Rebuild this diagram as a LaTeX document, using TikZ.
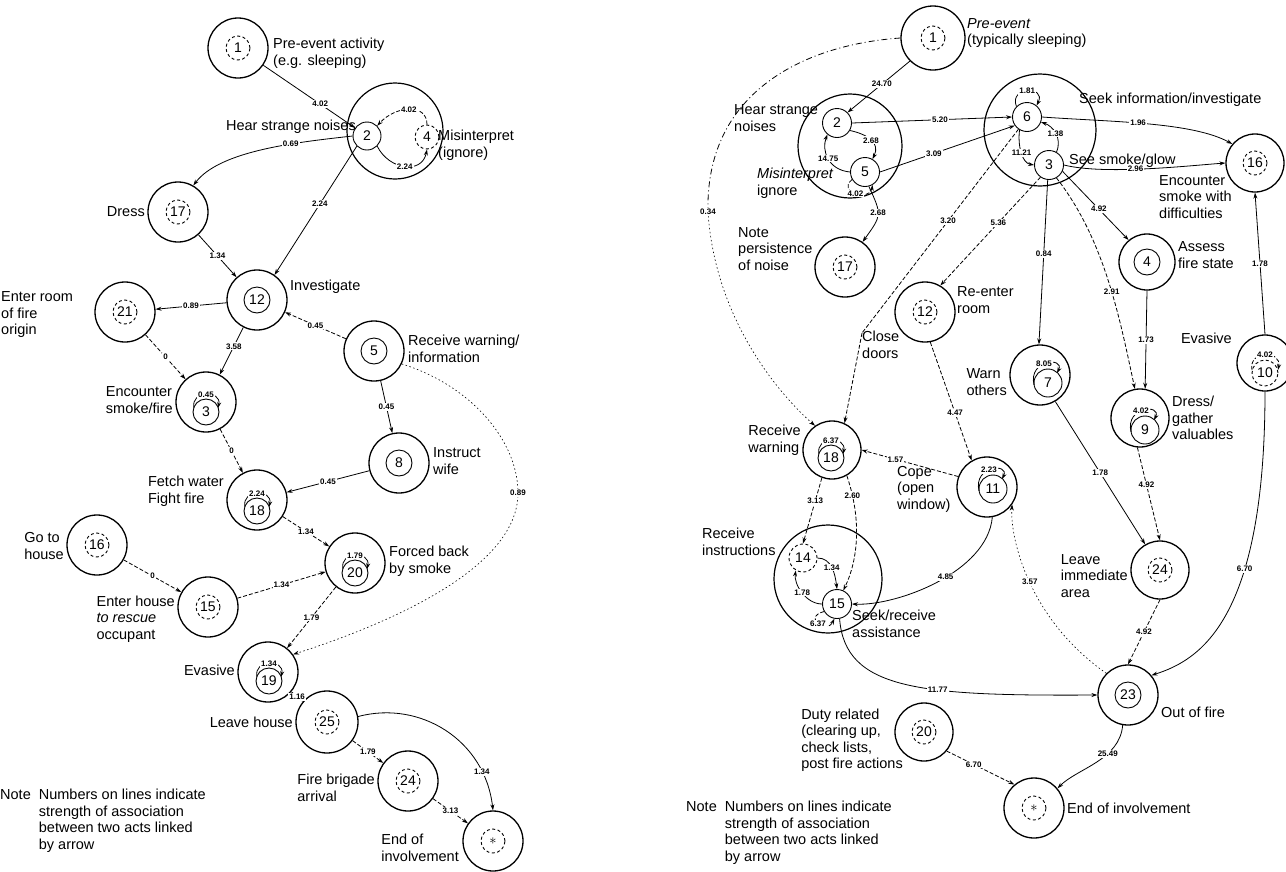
\documentclass[tikz,border=0pt]{standalone}
\usepackage{fontspec}
\setmainfont{Liberation Sans}
\usetikzlibrary{arrows.meta, calc, positioning}

\begin{document}
\begin{tikzpicture}[x=1pt, y=1pt,
  act/.style={circle, draw, line width=1.3pt, minimum size=60pt, inner sep=0pt},
  ring/.style={circle, draw, line width=0.9pt, minimum size=26pt, inner sep=0pt, font=\fontsize{14}{14}\selectfont},
  dring/.style={ring, minimum size=24pt, dash pattern=on 3pt off 2.5pt},
  grp/.style={circle, draw, line width=1.2pt, inner sep=0pt},
  lab/.style={font=\fontsize{14.5}{16.5}\selectfont, align=left, inner sep=1pt},
  num/.style={font=\fontsize{8}{9}\selectfont\bfseries, fill=white, inner sep=1pt},
  lnk/.style={line width=0.8pt, -{Stealth[length=6pt,width=4pt]}},
  wk/.style={lnk, dash pattern=on 4pt off 2pt},
  fnt/.style={lnk, line width=0.6pt, dash pattern=on 1.5pt off 2.5pt}]
\useasboundingbox[fill=white] (0,0) rectangle (1286,-871);

% ---------- left chart ----------
\node[act] (l1) at (238,-48) {}; \node[dring] (l1i) at (l1) {1};
\node[lab, anchor=west] (t1) at (272,-53) {Pre-event activity\\(e.g. sleeping)};
\node[grp, minimum size=96pt] (g24) at (395,-131) {};
\node[ring, minimum size=28pt] (l2) at (367,-136) {2};
\node[dring] (l4) at (427,-137) {4};
\node[lab, anchor=east] (t2) at (357,-127) {Hear strange noises};
\node[lab, anchor=west] (t4) at (437,-145) {Misinterpret\\(ignore)};
\node[act] (l17) at (178,-212) {}; \node[dring] (l17i) at (l17) {17};
\node[lab, anchor=east] (t17) at (146,-212) {Dress};
\node[act] (l12) at (257,-300) {}; \node[ring] (l12i) at (l12) {12};
\node[lab, anchor=west] (t12) at (289,-287) {Investigate};
\node[act] (l21) at (125,-312) {}; \node[dring] (l21i) at (l21) {21};
\node[lab, anchor=west] (t21) at (0,-315) {Enter room\\of fire\\origin};
\node[act] (l5) at (374,-351) {}; \node[ring] (l5i) at (l5) {5};
\node[lab, anchor=west] (t5) at (407,-349) {Receive warning/\\information};
\node[act] (l3) at (206,-402) {}; \node[ring] (l3i) at (206,-412) {3};
\node[lab, anchor=east] (t3) at (174,-400) {Encounter\\smoke/fire};
\node[act] (l8) at (399,-463) {}; \node[ring] (l8i) at (l8) {8};
\node[lab, anchor=west] (t8) at (432,-461) {Instruct\\wife};
\node[act] (l18) at (257,-500) {}; \node[ring] (l18i) at (257,-511) {18};
\node[lab, anchor=east] (t18) at (225,-491) {Fetch water\\Fight fire};
\node[act] (l16) at (97,-545) {}; \node[dring] (l16i) at (l16) {16};
\node[lab, anchor=east] (t16) at (65,-546) {Go to\\house};
\node[act] (l15) at (208,-607) {}; \node[dring] (l15i) at (l15) {15};
\node[lab, anchor=east] (t15) at (176,-619) {Enter house\\\textit{to rescue}\\occupant};
\node[act] (l20) at (355,-563) {}; \node[ring] (l20i) at (355,-573) {20};
\node[lab, anchor=west] (t20) at (388,-561) {Forced back\\by smoke};
\node[act] (l19) at (268,-672) {}; \node[ring] (l19i) at (269,-681) {19};
\node[lab, anchor=east] (t19) at (236,-670) {Evasive};
\node[act, minimum size=62pt] (l25) at (327,-722) {}; \node[dring] (l25i) at (l25) {25};
\node[lab, anchor=east] (t25) at (294,-722) {Leave house};
\node[act] (l24) at (408,-781) {}; \node[dring] (l24i) at (l24) {24};
\node[lab, anchor=east] (t24) at (376,-788) {Fire brigade\\arrival};
\node[act] (lend) at (493,-841) {}; \node[dring] (lendi) at (lend) {$*$};
\node[lab, anchor=east] (tend) at (460,-848) {End of\\involvement};
\node[lab, anchor=north west, inner sep=0pt] (lnote) at (0,-788)
  {\begin{tabular}{@{}l@{\ \ }l@{}}Note & Numbers on lines indicate\\ & strength of association\\ & between two acts linked\\ & by arrow\end{tabular}};

\draw[lnk] (l1) -- node[num, pos=0.62] {4.02} (l2);
\draw[wk] (l4.north) .. controls +(0,22) and +(18,20) .. node[num] {4.02} (l2.north east);
\draw[lnk] (l2.south east) .. controls +(12,-24) and +(-5,-25) .. node[num] {2.24} (l4.south);
\draw[lnk] (l2.west) .. controls (300,-142) and (220,-150) .. node[num, pos=0.35] {0.69} (l17.60);
\draw[lnk] (l2.south west) -- node[num, pos=0.45] {2.24} (l12.55);
\draw[lnk] (l17) -- node[num] {1.34} (l12);
\draw[lnk] (l12) -- node[num] {0.89} (l21);
\draw[wk] (l5) -- node[num] {0.45} (l12);
\draw[lnk] (l12) -- node[num, pos=0.4] {3.58} (l3);
\draw[wk] (l21) -- node[num] {0} (l3);
\draw[wk] (l3) -- node[num] {0} (l18);
\draw[lnk] (l5) -- node[num] {0.45} (l8);
\draw[lnk] (l8) -- node[num] {0.45} (l18);
\draw[wk] (l18) -- node[num] {1.34} (l20);
\draw[wk] (l16) -- node[num] {0} (l15);
\draw[wk] (l15) -- node[num] {1.34} (l20);
\draw[wk] (l20) -- node[num] {1.79} (l19);
\coordinate (c89) at (518,-493);
\draw[fnt] (l5.-25) .. controls (470,-385) and (518,-440) .. (c89)
  .. controls (518,-565) and (400,-620) .. (l19.35);
\node[num] (n89) at (c89) {0.89};
\draw[wk] (l19) -- node[num] {1.16} (l25);
\draw[wk] (l25) -- node[num] {1.79} (l24);
\draw[wk] (l24) -- node[num] {3.13} (lend);
\draw[lnk] (l25.10) .. controls (420,-700) and (485,-740) .. node[num, pos=0.8] {1.34} (lend.north);
% self loops
\draw[lnk] ($(l3i)+(-12,4)$) .. controls +(-4,18) and +(4,18) .. node[num] {0.45} ($(l3i)+(12,4)$);
\draw[lnk] ($(l18i)+(-12,4)$) .. controls +(-4,18) and +(4,18) .. node[num] {2.24} ($(l18i)+(12,4)$);
\draw[lnk] ($(l20i)+(-12,4)$) .. controls +(-4,18) and +(4,18) .. node[num] {1.79} ($(l20i)+(12,4)$);
\draw[lnk] ($(l19i)+(-12,4)$) .. controls +(-4,18) and +(4,18) .. node[num] {1.34} ($(l19i)+(12,4)$);

% ---------- right chart ----------
\node[act, minimum size=64pt] (r1) at (933,-38) {}; \node[dring] (r1i) at (r1) {1};
\node[lab, anchor=west] (u1) at (966,-33) {\textit{Pre-event}\\(typically sleeping)};
\node[grp, minimum size=104pt] (g25) at (850,-146) {};
\node[ring, minimum size=29pt] (r2) at (837,-123) {2};
\node[ring, minimum size=29pt] (r5) at (865,-172) {5};
\node[lab, anchor=west] (u2) at (733,-118) {Hear strange\\noises};
\node[lab, anchor=west] (u5) at (756,-183) {\textit{Misinterpret}\\ignore};
\node[grp, minimum size=112pt] (g63) at (1040,-130) {};
\node[ring, minimum size=29pt] (r6) at (1027,-117) {6};
\node[ring, minimum size=29pt] (r3) at (1049,-165) {3};
\node[lab, anchor=west] (u6) at (1078,-100) {Seek information/investigate};
\node[lab, anchor=west] (u3) at (1068,-161) {See smoke/glow};
\node[act, minimum size=58pt] (r16) at (1255,-163) {}; \node[dring] (r16i) at (r16) {16};
\node[lab, anchor=west] (u16) at (1158,-197) {Encounter\\smoke with\\difficulties};
\node[act] (r17) at (845,-267) {}; \node[dring] (r17i) at (r17) {17};
\node[lab, anchor=west] (u17) at (737,-249) {Note\\persistence\\of noise};
\node[act] (r12) at (925,-312) {}; \node[dring] (r12i) at (r12) {12};
\node[lab, anchor=west] (u12) at (956,-300) {Re-enter\\room};
\node[lab, anchor=west] (ucd) at (861,-345) {Close\\doors};
\node[act, minimum size=56pt] (r4) at (1147,-262) {}; \node[ring] (r4i) at (r4) {4};
\node[lab, anchor=west] (u4) at (1177,-255) {Assess\\fire state};
\node[act] (r7) at (1040,-375) {}; \node[ring, minimum size=28pt] (r7i) at (1048,-383) {7};
\node[lab, anchor=east] (u7) at (1008,-382) {Warn\\others};
\node[act, minimum size=58pt] (r9) at (1140,-418) {}; \node[ring, minimum size=28pt] (r9i) at (1145,-430) {9};
\node[lab, anchor=west] (u9) at (1171,-418) {Dress/\\gather\\valuables};
\node[act, minimum size=56pt] (r10) at (1265,-363) {}; \node[dring, minimum size=26pt] (r10i) at (1265,-373) {10};
\node[lab, anchor=east] (u10) at (1233,-338) {Evasive};
\node[act, minimum size=58pt] (r18) at (832,-450) {}; \node[ring] (r18i) at (831,-458) {18};
\node[lab, anchor=east] (u18) at (802,-440) {Receive\\warning};
\node[act] (r11) at (987,-487) {}; \node[ring, minimum size=28pt] (r11i) at (993,-489) {11};
\node[lab, anchor=west] (u11) at (896,-489) {Cope\\(open\\window)};
\node[grp, minimum size=108pt] (g45) at (828,-579) {};
\node[dring, minimum size=28pt] (r14) at (803,-558) {14};
\node[ring, minimum size=29pt] (r15) at (837,-604) {15};
\node[lab, anchor=west] (u14) at (701,-542) {Receive\\instructions};
\node[lab, anchor=west] (u15) at (851,-624) {Seek/receive\\assistance};
\node[act, minimum size=58pt] (r24) at (1160,-570) {}; \node[dring] (r24i) at (r24) {24};
\node[lab, anchor=east] (u24) at (1129,-576) {Leave\\immediate\\area};
\node[act] (r23) at (1128,-695) {}; \node[ring] (r23i) at (r23) {23};
\node[lab, anchor=west] (u23) at (1160,-712) {Out of fire};
\node[act, minimum size=58pt] (r20) at (924,-732) {}; \node[dring] (r20i) at (r20) {20};
\node[lab, anchor=east] (u20) at (904,-740) {Duty related\\(clearing up,\\check lists,\\post fire actions};
\node[act] (rend) at (1034,-808) {}; \node[dring] (rendi) at (rend) {$*$};
\node[lab, anchor=west] (uend) at (1066,-808) {End of involvement};
\node[lab, anchor=north west, inner sep=0pt] (rnote) at (686,-800)
  {\begin{tabular}{@{}l@{\ \ }l@{}}Note & Numbers on lines indicate\\ & strength of association\\ & between two acts linked\\ & by arrow\end{tabular}};

\coordinate (c034) at (708,-212);
\draw[wk, dash pattern=on 6pt off 3pt on 1pt off 3pt, -] (r1.west) .. controls (800,-45) and (705,-95) .. (c034);
\draw[fnt] (c034) .. controls (715,-320) and (780,-395) .. (r18.125);
\node[num] (n034) at (c034) {0.34};
\draw[lnk] (r1.225) -- node[num, pos=0.45] {24.70} (r2.45);
\draw[lnk] (r2.east) -- node[num, pos=0.55] {5.20} (r6.west);
\draw[lnk] (r5.east) -- node[num, pos=0.4] {3.09} (r6.215);
\draw[lnk] (r2.-30) .. controls +(18,-4) and +(8,16) .. node[num] {2.68} (r5.60);
\draw[lnk] (r5.west) .. controls +(-22,2) and +(-6,-16) .. node[num] {14.75} (r2.230);
\draw[wk] (r5.210) .. controls +(-16,-14) and +(-2,-16) .. node[num] {4.02} (r5.300);
\draw[lnk] (r5.-75) .. controls (882,-215) .. node[num, pos=0.45] {2.68} (r17.55);
\draw[lnk] (r6.135) .. controls +(-8,20) and +(10,20) .. node[num] {1.81} (r6.50);
\draw[lnk] (r6.240) .. controls +(-2,-16) and +(-12,2) .. node[num] {11.21} (r3.west);
\draw[lnk] (r3.60) .. controls +(6,14) and +(12,-4) .. node[num] {1.38} (r6.-20);
\draw[lnk] (r6.east) .. controls +(70,-5) and +(-40,22) .. node[num, pos=0.45] {1.96} (r16.140);
\draw[lnk] (r3.east) .. controls +(40,-10) and +(-40,-3) .. node[num, pos=0.45] {2.96} (r16.west);
\coordinate (cdoor) at (862,-333);
\draw[wk, -] (r6.235) -- node[num, pos=0.45] {3.20} (cdoor);
\draw[wk] (cdoor) -- (r18.65);
\draw[wk] (r3.235) -- node[num, pos=0.42] {5.36} (r12.60);
\draw[lnk] (r3.265) -- node[num, pos=0.45] {0.84} (r7.92);
\draw[wk] (r3.-60) .. controls (1105,-240) and (1120,-320) .. node[num, pos=0.55] {2.91} (r9.100);
\draw[lnk] (r3.-25) -- node[num, pos=0.55] {4.92} (r4.130);
\draw[lnk] (r4.south) -- node[num] {1.73} (r9.80);
\draw[lnk] (r10.north) -- node[num] {1.78} (r16.south);
\draw[lnk] (r10.south) .. controls (1265,-620) and (1200,-660) .. node[num, pos=0.35] {6.70} (r23.40);
\draw[wk] (r12.-80) -- node[num, pos=0.6] {4.47} (r11.120);
\draw[wk] (r11.160) -- node[num, pos=0.65] {1.57} (r18.east);
\draw[fnt] (r23.135) .. controls (1030,-620) and (1010,-540) .. node[num, pos=0.5] {3.57} (r11.-35);
\draw[wk] (r18.250) -- node[num, pos=0.35] {3.13} (r14.north);
\draw[wk] (r18.-60) .. controls (862,-520) and (858,-560) .. node[num, pos=0.15] {2.60} (r15.65);
\draw[lnk] (r14.east) .. controls +(14,0) and +(-2,16) .. node[num] {1.34} (r15.north);
\draw[lnk] (r15.west) .. controls +(-16,0) and +(-2,-14) .. node[num] {1.78} (r14.240);
\draw[wk] (r15.210) .. controls +(-22,-6) and +(-8,-16) .. node[num] {6.37} (r15.260);
\draw[lnk] (r11.-80) .. controls +(-5,-55) and +(45,-2) .. node[num, pos=0.45] {4.85} (r15.east);
\draw[lnk] (r7.-60) -- node[num] {1.78} (r24.120);
\draw[wk] (r9.-95) -- node[num, pos=0.4] {4.92} (r24.north);
\draw[wk] (r24.south) -- node[num] {4.92} (r23.north);
\draw[lnk] (r15.-80) .. controls (845,-690) and (920,-696) .. node[num, pos=0.62] {11.77} (r23.west);
\draw[wk] (r20.-40) -- node[num, pos=0.4] {6.70} (rend.130);
\draw[lnk] (r23.-100) .. controls +(-3,-35) and +(20,20) .. node[num, pos=0.35] {25.49} (rend.40);
% self loops
\draw[lnk] ($(r7i)+(-14,-2)$) .. controls +(-6,26) and +(8,16) .. node[num, pos=0.45] {8.05} ($(r7i)+(9,10)$);
\draw[lnk] ($(r9i)+(-14,-2)$) .. controls +(-6,26) and +(8,16) .. node[num, pos=0.45] {4.02} ($(r9i)+(9,10)$);
\draw[lnk] ($(r11i)+(-14,-2)$) .. controls +(-6,26) and +(8,16) .. node[num, pos=0.45] {2.23} ($(r11i)+(9,10)$);
\draw[lnk] ($(r18i)+(-12,4)$) .. controls +(-4,18) and +(4,18) .. node[num] {6.37} ($(r18i)+(12,4)$);
\draw[wk] ($(r10i)+(-13,3)$) .. controls +(-4,20) and +(4,20) .. node[num] {4.02} ($(r10i)+(13,3)$);
\end{tikzpicture}
\end{document}
